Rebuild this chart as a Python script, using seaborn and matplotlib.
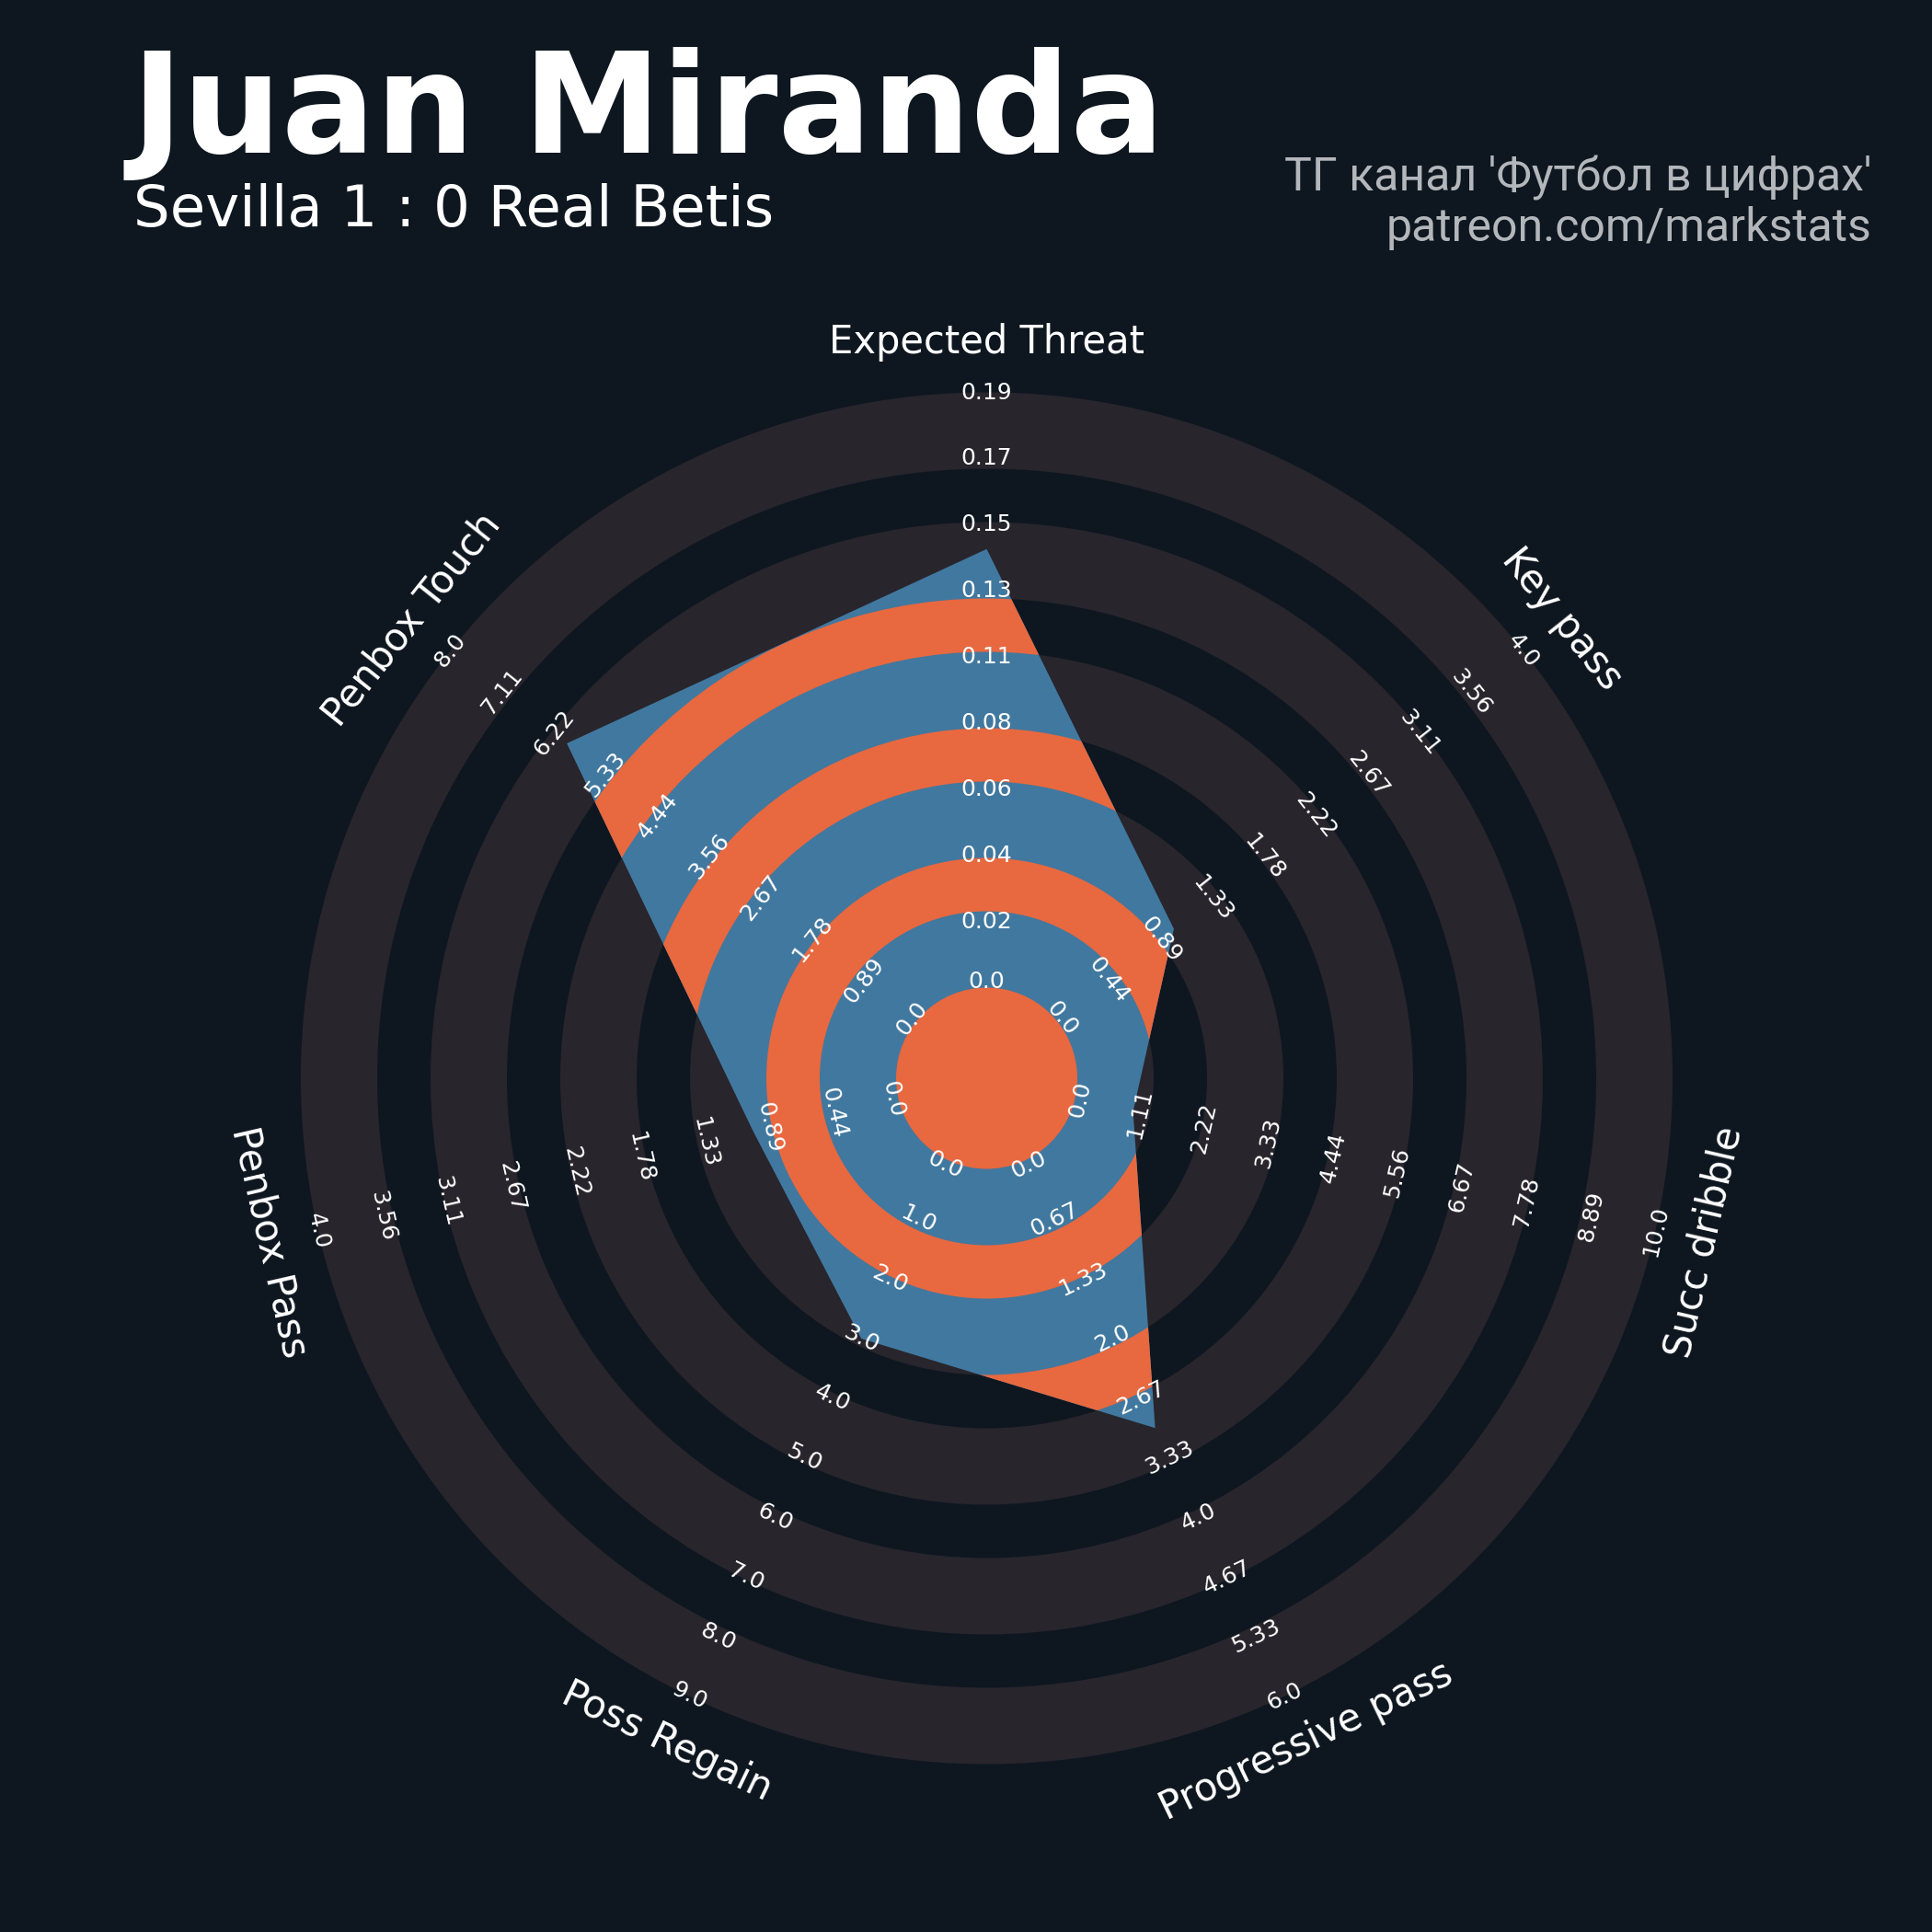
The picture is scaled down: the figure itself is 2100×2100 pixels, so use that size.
import numpy as np
import matplotlib
matplotlib.use("Agg")
import matplotlib.pyplot as plt
from matplotlib.patches import Wedge, Circle, Polygon
import seaborn as sns

# === Data ===
PARAMS = ['Expected Threat', 'Key pass', 'Succ dribble', 'Progressive pass',
          'Poss Regain', 'Penbox Pass', 'Penbox Touch']
MIN_RANGE = [0, 0, 0, 0, 0, 0, 0]
MAX_RANGE = [0.19, 4, 10, 6, 9, 4, 8]
VALUES = [0.14, 1, 1, 3, 3, 1, 6]

PLAYER = 'Juan Miranda'
MATCH = 'Sevilla 1 : 0 Real Betis'
CREDITS = "ТГ канал 'Футбол в цифрах'\npatreon.com/markstats"

# === Style ===
BG = '#0E1720'
RING = '#28252C'
BLUE = '#41789F'
ORANGE = '#E8683F'
GREY = '#B3B7BB'

# === Geometry (pixels of a 2100 px figure) ===
W = 2100
CX, CY = 1072.5, 1172          # radar centre, measured from top-left
CENTER_R = 98.5                # centre circle
RING_W = 83                    # coloured ring
GAP_W = 58                     # gap between rings
NUM_RINGS = 5
OUTER = CENTER_R + NUM_RINGS * RING_W + (NUM_RINGS - 1) * GAP_W
NUM_LABELS = 10
PARAM_R = 800

sns.set_theme(style='dark', rc={'figure.facecolor': BG, 'axes.facecolor': BG})
plt.rcParams['font.family'] = ['DejaVu Sans']

fig = plt.figure(figsize=(7, 7), dpi=300)
ax = fig.add_axes([0, 0, 1, 1])
ax.set_xlim(-CX, W - CX)
ax.set_ylim(-(W - CY), CY)
ax.axis('off')

n = len(PARAMS)
angles = np.arange(n) * 2 * np.pi / n   # clockwise from top


def rotation(a):
    deg = np.degrees(a) % 360
    return -deg if (deg <= 90 or deg >= 270) else 180 - deg


def to_radius(v, lo, hi):
    return CENTER_R + (v - lo) / (hi - lo) * (OUTER - CENTER_R)


# === Background rings ===
for k in range(NUM_RINGS):
    inner = CENTER_R + k * (RING_W + GAP_W)
    ax.add_patch(Wedge((0, 0), inner + RING_W, 0, 360, width=RING_W,
                       facecolor=RING, edgecolor='none', zorder=1))

# === Radar polygon ===
radii = np.array([to_radius(v, lo, hi) for v, lo, hi in zip(VALUES, MIN_RANGE, MAX_RANGE)])
xs = radii * np.sin(angles)
ys = radii * np.cos(angles)
poly = Polygon(np.column_stack([xs, ys]), closed=True, facecolor=BLUE,
               edgecolor='none', zorder=2)
ax.add_patch(poly)

# orange rings inside the polygon
inner_patches = [Circle((0, 0), CENTER_R)]
for k in range(NUM_RINGS - 1):
    inner = CENTER_R + RING_W + k * (RING_W + GAP_W)
    inner_patches.append(Wedge((0, 0), inner + GAP_W, 0, 360, width=GAP_W))
for p in inner_patches:
    p.set_facecolor(ORANGE)
    p.set_edgecolor('none')
    p.set_zorder(3)
    ax.add_patch(p)
    p.set_clip_path(poly)

# === Range labels ===
step = (OUTER - CENTER_R) / (NUM_LABELS - 1)
for a, lo, hi in zip(angles, MIN_RANGE, MAX_RANGE):
    vals = np.linspace(lo, hi, NUM_LABELS)
    for j, v in enumerate(vals):
        r = CENTER_R + j * step + (6 if j == 0 else 0)
        ax.text(r * np.sin(a), r * np.cos(a), str(round(float(v), 2)),
                fontsize=6, color='white', ha='center', va='center',
                rotation=rotation(a), rotation_mode='anchor', zorder=5)

# === Param labels ===
for a, name in zip(angles, PARAMS):
    ax.text(PARAM_R * np.sin(a), PARAM_R * np.cos(a), name,
            fontsize=10, color='white', ha='center', va='center',
            rotation=rotation(a), rotation_mode='anchor', zorder=5)

# === Titles ===
fig.text(0.068, 1 - 166 / W, PLAYER, fontsize=36.3, fontweight='bold',
         color='white', ha='left', va='baseline')
fig.text(0.069, 1 - 246 / W, MATCH, fontsize=15, color='white',
         ha='left', va='baseline')
fig.text(0.969, 1 - 262 / W, CREDITS, fontsize=12, color=GREY,
         ha='right', va='baseline', linespacing=1.15,
         family=['Roboto', 'DejaVu Sans'])

fig.savefig('out.png', dpi=300, facecolor=BG)
